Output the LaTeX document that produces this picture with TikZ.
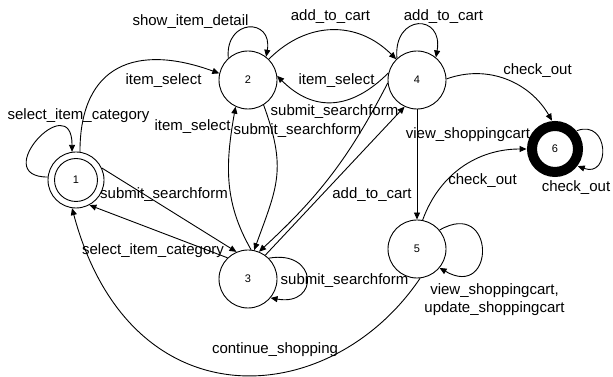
\documentclass[tikz,border=0pt]{standalone}
\usepackage{fontspec}
\setmainfont{Liberation Sans}
\usetikzlibrary{arrows.meta}

\tikzset{
  state/.style={circle, draw, line width=0.9pt, minimum size=58pt, inner sep=0pt,
    font=\fontsize{11}{13}\selectfont},
  lbl/.style={anchor=base, inner sep=0pt, font=\fontsize{15}{18}\selectfont},
  edge/.style={line width=0.9pt, -{Triangle[length=7pt,width=6pt]}}
}

\begin{document}
\begin{tikzpicture}[x=1pt, y=1pt]
  \useasboundingbox (0,0) rectangle (613,377);
  % states
  \node[state, minimum size=56pt] (s1) at (76,197) {1};
  \draw[line width=0.9pt] (s1.center) circle[radius=21.5pt];
  \node[state] (s2) at (248,297) {2};
  \node[state] (s3) at (248,98) {3};
  \node[state] (s4) at (417,297) {4};
  \node[state] (s5) at (417,128) {5};
  \node[state, draw=none, minimum size=56pt] (s6) at (555,228) {6};
  \draw[line width=10pt] (s6.center) circle[radius=23pt];
  % self loops
  \draw[edge] (s1.174) .. controls +(180:60) and +(90:65) .. (s1.98);
  \draw[edge] (s2.132) .. controls +(95:40) and +(80:40) .. (s2.52);
  \draw[edge] (s4.133) .. controls +(95:45) and +(80:45) .. (s4.50);
  \draw[edge] (s3.45) .. controls +(10:50) and +(-10:50) .. (s3.-40);
  \draw[edge] (s5.40) .. controls +(30:65) and +(-30:65) .. (s5.-40);
  \draw[edge] (s6.40) .. controls +(20:35) and +(-20:35) .. (s6.-37);
  % transitions between states
  \draw[edge] (s1.82) to[out=90, in=160, looseness=1.4] (s2.167);
  \draw[edge] (s2.45) to[out=45, in=135, looseness=1.1] (s4.135);
  \draw[edge] (s4.166) to[out=225, in=-45, looseness=1.2] (s2.8);
  \draw[edge] (s3.84) to[out=120, in=-100] (s2.245);
  \draw[edge] (s2.302) to[out=-70, in=70, looseness=1.2] (s3.78);
  \draw[edge] (s3.54) -- (s4.245);
  \draw[edge] (s4.186) to[bend left=10] (s3.68);
  \draw[edge] (s4) -- (s5);
  \draw[edge] (s4.2) to[out=20, in=120] (s6.96);
  \draw[edge] (s5.79) to[out=70, in=180] (s6.180);
  \draw[edge] (s1.25) -- (s3.113);
  \draw[edge] (s3.134) -- (s1.-62);
  \draw[edge] (s5.276) .. controls +(236:160) and +(285:225) .. (s1.262);
  % labels
  \node[lbl] (t11) at (78.5,257) {select\_item\_category};
  \node[lbl] (t12) at (163.5,292) {item\_select};
  \node[lbl] (t22) at (190.5,351) {show\_item\_detail};
  \node[lbl] (t24) at (330.5,356) {add\_to\_cart};
  \node[lbl] (t44) at (443.5,356) {add\_to\_cart};
  \node[lbl] (t42) at (336.5,292) {item\_select};
  \node[lbl] (t43) at (334.5,261) {submit\_searchform};
  \node[lbl] (t23) at (297.5,242) {submit\_searchform};
  \node[lbl] (t32) at (192.5,246) {item\_select};
  \node[lbl] (t46) at (537.5,302) {check\_out};
  \node[lbl] (t45) at (468,238) {view\_shoppingcart};
  \node[lbl] (t56) at (482.5,192) {check\_out};
  \node[lbl] (t66) at (576,185) {check\_out};
  \node[lbl] (t13) at (164,178) {submit\_searchform};
  \node[lbl] (t34) at (372,178) {add\_to\_cart};
  \node[lbl] (t31) at (153,122) {select\_item\_category};
  \node[lbl] (t33) at (344.5,92) {submit\_searchform};
  \node[lbl, align=center] (t55) at (494.5,64) {view\_shoppingcart,\\update\_shoppingcart};
  \node[lbl] (t51) at (275,23) {continue\_shopping};
\end{tikzpicture}
\end{document}
